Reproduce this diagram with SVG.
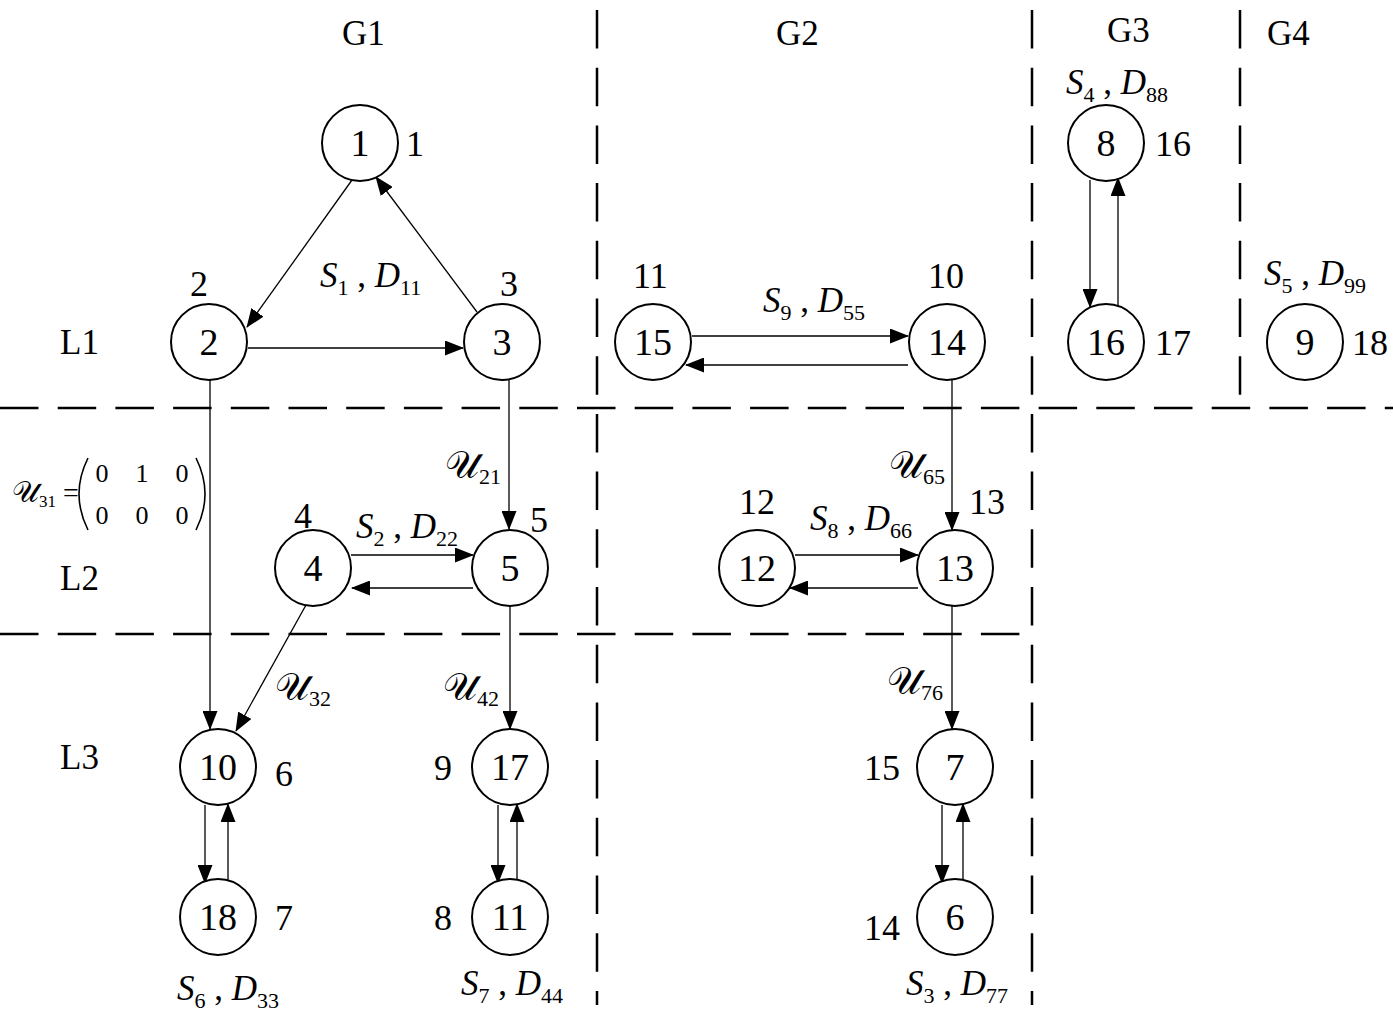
<svg xmlns="http://www.w3.org/2000/svg" width="1393" height="1023" viewBox="0 0 1393 1023">
<style>
text{font-family:"Liberation Serif","DejaVu Serif",serif;fill:#000}
.nd circle{fill:#fff;stroke:#000;stroke-width:2}
.nt{font-size:38px;text-anchor:middle}
.lb{font-size:36px}
.hd{font-size:35px}
.el{font-size:35px}
.it{font-style:italic}
.sb{font-size:22px}
.sc{font-size:38px;font-family:"DejaVu Sans","DejaVu Serif","Liberation Serif",serif}
.dash{stroke:#000;stroke-width:2.5;fill:none;stroke-dasharray:38.5 19.2}
.ed line{stroke:#000;stroke-width:1.3;marker-end:url(#ah)}
</style>
<defs>
<marker id="ah" markerUnits="userSpaceOnUse" markerWidth="19" markerHeight="15" viewBox="0 0 19 15" refX="18" refY="7.5" orient="auto">
<path d="M0,0 L19,7.5 L0,15 Z" fill="#000"/>
</marker>
</defs>
<rect width="1393" height="1023" fill="#fff"/>
<g id="grid">
<line class="dash" x1="0" y1="408" x2="1393" y2="408"/>
<line class="dash" x1="0" y1="634" x2="1020" y2="634"/>
<line class="dash" x1="597" y1="10" x2="597" y2="1005"/>
<line class="dash" x1="1032" y1="10" x2="1032" y2="1005"/>
<line class="dash" x1="1240" y1="10" x2="1240" y2="395"/>
</g>
<g id="headers">
<text class="hd" x="342" y="45">G1</text>
<text class="hd" x="776" y="45">G2</text>
<text class="hd" x="1107" y="42">G3</text>
<text class="hd" x="1267" y="45">G4</text>
<text class="hd" x="60" y="354">L1</text>
<text class="hd" x="60" y="590">L2</text>
<text class="hd" x="60" y="769">L3</text>
</g>
<g id="connectors" class="ed">
<line x1="352" y1="180" x2="247" y2="327"/>
<line x1="477" y1="312" x2="376" y2="177"/>
<line x1="248" y1="348" x2="463" y2="348"/>
<line x1="692" y1="336" x2="908" y2="336"/>
<line x1="908" y1="365" x2="686" y2="365"/>
<line x1="1090" y1="180" x2="1090" y2="307"/>
<line x1="1118" y1="307" x2="1118" y2="178"/>
<line x1="210" y1="380" x2="210" y2="729"/>
<line x1="509" y1="380" x2="509" y2="529"/>
<line x1="351" y1="555" x2="473" y2="555"/>
<line x1="473" y1="588" x2="352" y2="588"/>
<line x1="306" y1="605" x2="236" y2="731"/>
<line x1="510" y1="606" x2="510" y2="729"/>
<line x1="205" y1="805" x2="205" y2="883"/>
<line x1="228" y1="882" x2="228" y2="804"/>
<line x1="498" y1="805" x2="498" y2="883"/>
<line x1="517" y1="882" x2="517" y2="804"/>
<line x1="952" y1="380" x2="952" y2="530"/>
<line x1="795" y1="555" x2="918" y2="555"/>
<line x1="918" y1="588" x2="790" y2="588"/>
<line x1="952" y1="606" x2="952" y2="729"/>
<line x1="942" y1="805" x2="942" y2="883"/>
<line x1="963" y1="882" x2="963" y2="804"/>
</g>
<g id="n1" class="nd"><circle cx="360" cy="143" r="38"/><text class="nt" x="360" y="156">1</text></g>
<g id="n2" class="nd"><circle cx="209" cy="342" r="38"/><text class="nt" x="209" y="355">2</text></g>
<g id="n3" class="nd"><circle cx="502" cy="342" r="38"/><text class="nt" x="502" y="355">3</text></g>
<g id="n15" class="nd"><circle cx="653" cy="342" r="38"/><text class="nt" x="653" y="355">15</text></g>
<g id="n14" class="nd"><circle cx="947" cy="342" r="38"/><text class="nt" x="947" y="355">14</text></g>
<g id="n8" class="nd"><circle cx="1106" cy="143" r="38"/><text class="nt" x="1106" y="156">8</text></g>
<g id="n16" class="nd"><circle cx="1106" cy="342" r="38"/><text class="nt" x="1106" y="355">16</text></g>
<g id="n9" class="nd"><circle cx="1305" cy="342" r="38"/><text class="nt" x="1305" y="355">9</text></g>
<g id="n4" class="nd"><circle cx="313" cy="568" r="38"/><text class="nt" x="313" y="581">4</text></g>
<g id="n5" class="nd"><circle cx="510" cy="568" r="38"/><text class="nt" x="510" y="581">5</text></g>
<g id="n12" class="nd"><circle cx="757" cy="568" r="38"/><text class="nt" x="757" y="581">12</text></g>
<g id="n13" class="nd"><circle cx="955" cy="568" r="38"/><text class="nt" x="955" y="581">13</text></g>
<g id="n10" class="nd"><circle cx="218" cy="767" r="38"/><text class="nt" x="218" y="780">10</text></g>
<g id="n17" class="nd"><circle cx="510" cy="767" r="38"/><text class="nt" x="510" y="780">17</text></g>
<g id="n7" class="nd"><circle cx="955" cy="767" r="38"/><text class="nt" x="955" y="780">7</text></g>
<g id="n18" class="nd"><circle cx="218" cy="917" r="38"/><text class="nt" x="218" y="930">18</text></g>
<g id="n11" class="nd"><circle cx="510" cy="917" r="38"/><text class="nt" x="510" y="930">11</text></g>
<g id="n6" class="nd"><circle cx="955" cy="917" r="38"/><text class="nt" x="955" y="930">6</text></g>
<g id="sidelabels" class="lb">
<text x="406" y="156">1</text>
<text x="190" y="296">2</text>
<text x="500" y="296">3</text>
<text x="633" y="288">11</text>
<text x="928" y="288">10</text>
<text x="1155" y="156">16</text>
<text x="1155" y="355">17</text>
<text x="1352" y="355">18</text>
<text x="294" y="528">4</text>
<text x="530" y="532">5</text>
<text x="739" y="514">12</text>
<text x="969" y="514">13</text>
<text x="275" y="786">6</text>
<text x="275" y="930">7</text>
<text x="434" y="780">9</text>
<text x="434" y="930">8</text>
<text x="864" y="780">15</text>
<text x="864" y="940">14</text>
</g>
<g id="edgelabels" class="el">
<text x="320" y="287"><tspan class="it">S</tspan><tspan class="sb" dy="8">1</tspan><tspan dy="-8"> , </tspan><tspan class="it">D</tspan><tspan class="sb" dy="8">11</tspan></text>
<text x="763" y="312"><tspan class="it">S</tspan><tspan class="sb" dy="8">9</tspan><tspan dy="-8"> , </tspan><tspan class="it">D</tspan><tspan class="sb" dy="8">55</tspan></text>
<text x="1066" y="94"><tspan class="it">S</tspan><tspan class="sb" dy="8">4</tspan><tspan dy="-8"> , </tspan><tspan class="it">D</tspan><tspan class="sb" dy="8">88</tspan></text>
<text x="1264" y="285"><tspan class="it">S</tspan><tspan class="sb" dy="8">5</tspan><tspan dy="-8"> , </tspan><tspan class="it">D</tspan><tspan class="sb" dy="8">99</tspan></text>
<text x="356" y="538"><tspan class="it">S</tspan><tspan class="sb" dy="8">2</tspan><tspan dy="-8"> , </tspan><tspan class="it">D</tspan><tspan class="sb" dy="8">22</tspan></text>
<text x="810" y="530"><tspan class="it">S</tspan><tspan class="sb" dy="8">8</tspan><tspan dy="-8"> , </tspan><tspan class="it">D</tspan><tspan class="sb" dy="8">66</tspan></text>
<text x="177" y="1000"><tspan class="it">S</tspan><tspan class="sb" dy="8">6</tspan><tspan dy="-8"> , </tspan><tspan class="it">D</tspan><tspan class="sb" dy="8">33</tspan></text>
<text x="461" y="995"><tspan class="it">S</tspan><tspan class="sb" dy="8">7</tspan><tspan dy="-8"> , </tspan><tspan class="it">D</tspan><tspan class="sb" dy="8">44</tspan></text>
<text x="906" y="995"><tspan class="it">S</tspan><tspan class="sb" dy="8">3</tspan><tspan dy="-8"> , </tspan><tspan class="it">D</tspan><tspan class="sb" dy="8">77</tspan></text>
<text x="445" y="478"><tspan class="sc">𝒰</tspan><tspan class="sb" dy="6">21</tspan></text>
<text x="889" y="478"><tspan class="sc">𝒰</tspan><tspan class="sb" dy="6">65</tspan></text>
<text x="275" y="700"><tspan class="sc">𝒰</tspan><tspan class="sb" dy="6">32</tspan></text>
<text x="443" y="700"><tspan class="sc">𝒰</tspan><tspan class="sb" dy="6">42</tspan></text>
<text x="887" y="694"><tspan class="sc">𝒰</tspan><tspan class="sb" dy="6">76</tspan></text>
</g>
<g id="matrix">
<text x="12" y="502" style="font-size:30px"><tspan class="sc" style="font-size:30px">𝒰</tspan><tspan style="font-size:17px" dy="5">31</tspan><tspan dy="-5" style="font-size:28px"> =</tspan></text>
<path d="M88,458 Q70,494 88,530" fill="none" stroke="#000" stroke-width="1.6"/>
<path d="M196,458 Q214,494 196,530" fill="none" stroke="#000" stroke-width="1.6"/>
<g style="font-size:26px;text-anchor:middle">
<text x="102" y="482">0</text><text x="142" y="482">1</text><text x="182" y="482">0</text>
<text x="102" y="524">0</text><text x="142" y="524">0</text><text x="182" y="524">0</text>
</g>
</g>
</svg>
